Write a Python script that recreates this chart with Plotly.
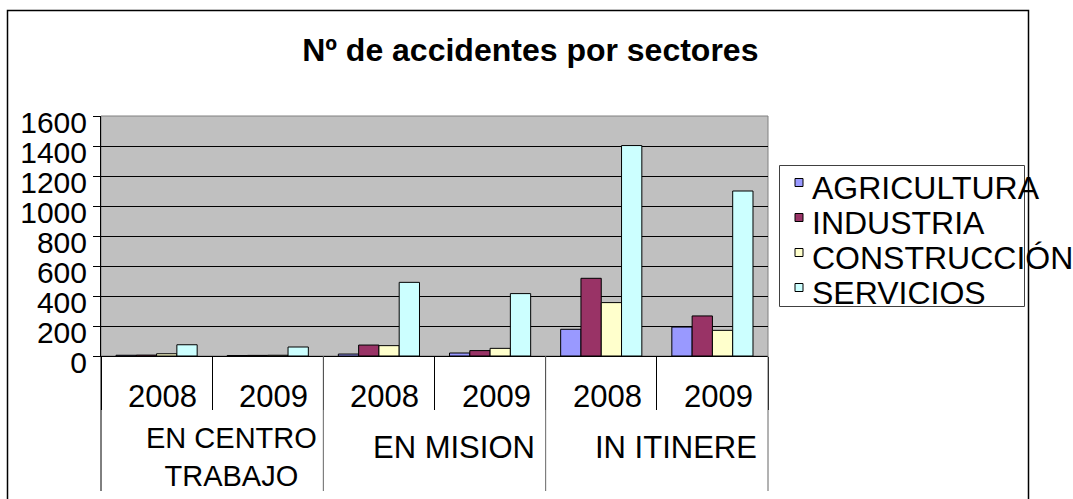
import plotly.graph_objects as go

# ---------------- data ----------------
groups = ["EN CENTRO TRABAJO", "EN MISION", "IN ITINERE"]
group_label_text = ["EN CENTRO<br>TRABAJO", "EN MISION", "IN ITINERE"]
years = ["2008", "2009"]
series_names = ["AGRICULTURA", "INDUSTRIA", "CONSTRUCCIÓN", "SERVICIOS"]
agricultura = [5, 3, 13, 20, 178, 193]
industria = [6, 4, 73, 36, 518, 267]
construccion = [15, 5, 69, 51, 356, 171]
servicios = [75, 60, 491, 416, 1403, 1100]
y_ticks = [0, 200, 400, 600, 800, 1000, 1200, 1400, 1600]
title_text = "Nº de accidentes por sectores"

series_values = [agricultura, industria, construccion, servicios]
colors = ["#9999FF", "#993366", "#FFFFCC", "#CCFFFF"]

# ---------------- layout geometry (pixels) ----------------
W, H = 1073, 499
PL, PR, PT, PB = 101, 768, 116, 356
FONT = "Liberation Sans, Arial, sans-serif"


def fx(x):
    return (x - PL) / (PR - PL)


def fy(y):
    return (PB - y) / (PB - PT)


categories = [f"{g} {y}" for g in groups for y in years]
year_labels = [y for g in groups for y in years]

fig = go.Figure()
for name, vals, col in zip(series_names, series_values, colors):
    fig.add_trace(go.Bar(
        x=categories, y=vals, name=name,
        marker=dict(color=col, line=dict(color="black", width=1)),
        showlegend=False,
    ))

shapes = []
annotations = []

# outer chart border
shapes.append(dict(type="rect", xref="paper", yref="paper",
                   x0=fx(7.5), x1=fx(1028.5), y0=fy(520), y1=fy(10.5),
                   line=dict(color="black", width=1.5), layer="below"))
# plot area border (grey)
shapes.append(dict(type="rect", xref="paper", yref="paper",
                   x0=0, x1=1, y0=0, y1=1,
                   line=dict(color="#808080", width=1), layer="below"))

# group separators (long)
n_groups = len(groups)
for k in range(n_groups + 1):
    shapes.append(dict(type="line", xref="paper", yref="paper",
                       x0=k / n_groups, x1=k / n_groups, y0=0, y1=fy(491),
                       line=dict(color="black" if k == 0 else "#666666", width=1)))

# year labels
for cat, lab in zip(categories, year_labels):
    annotations.append(dict(x=cat, xref="x", y=fy(396.5), yref="paper",
                            text=lab, showarrow=False, xshift=6,
                            xanchor="center", yanchor="middle",
                            font=dict(family=FONT, size=31, color="black")))

# group labels
for gi, lab in enumerate(group_label_text):
    xc = (2 * gi + 1) / (2 * n_groups)
    multi = "<br>" in lab
    annotations.append(dict(x=xc, xref="paper", y=fy(420 if multi else 428), yref="paper",
                            text=lab, showarrow=False, xshift=19,
                            xanchor="center", yanchor="top",
                            font=dict(family=FONT, size=29 if multi else 31, color="black")))

# manual legend
shapes.append(dict(type="rect", xref="paper", yref="paper",
                   x0=fx(779.5), x1=fx(1024.5), y0=fy(306.5), y1=fy(165.5),
                   line=dict(color="#404040", width=1), fillcolor="white", layer="below"))
for i, (name, col) in enumerate(zip(series_names, colors)):
    cy = 182.5 + 35 * i
    shapes.append(dict(type="rect", xref="paper", yref="paper",
                       x0=fx(795), x1=fx(803), y0=fy(cy + 4), y1=fy(cy - 4),
                       line=dict(color="black", width=1), fillcolor=col))
    annotations.append(dict(x=fx(810), xref="paper", y=fy(188 + 35 * i), yref="paper",
                            text=name, showarrow=False, xanchor="left", yanchor="middle",
                            font=dict(family=FONT, size=32, color="black")))

fig.update_layout(
    width=W, height=H,
    margin=dict(l=PL, r=W - PR, t=PT, b=H - PB, pad=0),
    paper_bgcolor="white", plot_bgcolor="#C0C0C0",
    barmode="group", bargap=0.27, bargroupgap=0,
    title=dict(text="<b>" + title_text + "</b>", x=fx(530.3), xref="paper", xanchor="center",
               y=1 - 49.5 / H, yref="container", yanchor="middle",
               font=dict(family=FONT, size=32, color="black")),
    shapes=shapes, annotations=annotations,
    xaxis=dict(type="category", showticklabels=False, showgrid=False,
               showline=True, linecolor="black", linewidth=1,
               ticks="outside", tickson="boundaries", ticklen=53,
               tickcolor="black", tickwidth=1),
    yaxis=dict(range=[0, 1600], tickvals=y_ticks, showgrid=True, gridcolor="black", gridwidth=1,
               showline=True, linecolor="black", linewidth=1,
               ticks="outside", ticklen=7, tickcolor="black",
               ticklabelshift=6,
               tickfont=dict(family=FONT, size=30, color="black"),
               zeroline=False),
    font=dict(family=FONT, color="black"),
)

fig.write_html("out.html", config={"displayModeBar": False},
               post_script="document.body.style.margin='0';")
